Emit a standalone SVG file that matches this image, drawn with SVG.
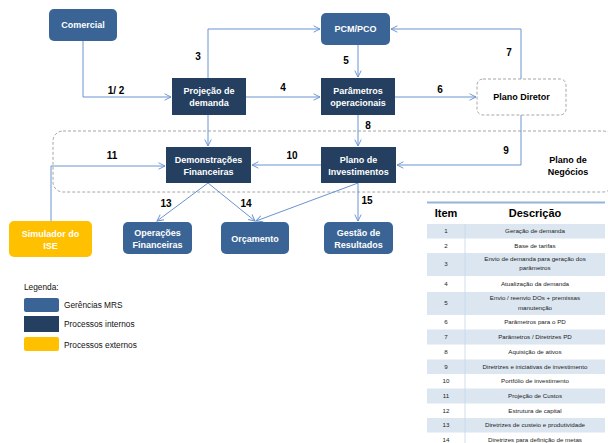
<svg xmlns="http://www.w3.org/2000/svg" width="608" height="443" viewBox="0 0 608 443">
<style>
.mrs{fill:#3A6496}
.int{fill:#243F60}
.ext{fill:#FFC000}
.nt{font-family:"Liberation Sans",Arial,sans-serif;font-weight:bold;font-size:9px;fill:#ffffff;text-anchor:middle}
.bt{font-family:"Liberation Sans",Arial,sans-serif;font-weight:bold;font-size:9px;fill:#000;text-anchor:middle}
.lbl{font-family:"Liberation Sans",Arial,sans-serif;font-weight:bold;font-size:10px;fill:#000;text-anchor:middle}
.con{fill:none;stroke:#6A93D0;stroke-width:1}
.lg{font-family:"Liberation Sans",Arial,sans-serif;font-size:8.3px;fill:#111}
.th{font-family:"Liberation Sans",Arial,sans-serif;font-weight:bold;font-size:11px;fill:#000;text-anchor:middle}
.td{font-family:"Liberation Sans",Arial,sans-serif;font-size:6.2px;fill:#222;text-anchor:middle}
.sh{fill:#DCE6F1}
</style>
<defs>
<marker id="ah" viewBox="0 0 10 10" refX="9" refY="5" markerWidth="8" markerHeight="8" markerUnits="userSpaceOnUse" orient="auto">
<path d="M1,1 L9,5 L1,9" fill="none" stroke="#6A93D0" stroke-width="1.2"/>
</marker>
</defs>
<rect width="608" height="443" fill="#ffffff"/>

<g id="plano-negocios">
<rect x="53" y="131" width="560" height="61" rx="10" fill="none" stroke="#A6A6A6" stroke-width="1" stroke-dasharray="3,2"/>
<text class="bt" x="568" y="163">Plano de</text>
<text class="bt" x="568" y="175">Negócios</text>
</g>

<g id="connectors">
<polyline class="con" points="83,41 83,97 171,97" marker-end="url(#ah)"/>
<polyline class="con" points="208,78 208,29 320,29" marker-end="url(#ah)"/>
<line class="con" x1="246" y1="97" x2="320" y2="97" marker-end="url(#ah)"/>
<line class="con" x1="358" y1="45" x2="358" y2="77" marker-end="url(#ah)"/>
<line class="con" x1="395" y1="97" x2="476" y2="97" marker-end="url(#ah)"/>
<polyline class="con" points="521,79 521,29 391,29" marker-end="url(#ah)"/>
<line class="con" x1="358" y1="115" x2="358" y2="146" marker-end="url(#ah)"/>
<polyline class="con" points="521,115 521,165 397,165" marker-end="url(#ah)"/>
<line class="con" x1="321" y1="165" x2="252" y2="165" marker-end="url(#ah)"/>
<polyline class="con" points="51,222 51,166 165,166" marker-end="url(#ah)"/>
<line class="con" x1="208" y1="115" x2="208" y2="146" marker-end="url(#ah)"/>
<line class="con" x1="208" y1="183" x2="157" y2="221" marker-end="url(#ah)"/>
<line class="con" x1="208" y1="183" x2="255" y2="221" marker-end="url(#ah)"/>
<line class="con" x1="358" y1="183" x2="256" y2="221" marker-end="url(#ah)"/>
<line class="con" x1="358" y1="183" x2="358" y2="221" marker-end="url(#ah)"/>
<text class="lbl" x="116" y="94">1/ 2</text>
<text class="lbl" x="198" y="60">3</text>
<text class="lbl" x="283" y="91">4</text>
<text class="lbl" x="346" y="64">5</text>
<text class="lbl" x="440" y="93">6</text>
<text class="lbl" x="509" y="56">7</text>
<text class="lbl" x="368" y="129">8</text>
<text class="lbl" x="506" y="154">9</text>
<text class="lbl" x="292" y="159">10</text>
<text class="lbl" x="112" y="159">11</text>
<text class="lbl" x="166" y="207">13</text>
<text class="lbl" x="246" y="207">14</text>
<text class="lbl" x="367" y="204">15</text>
</g>

<g id="comercial">
<rect class="mrs" x="49" y="9" width="68" height="32" rx="5"/>
<text class="nt" x="83" y="28">Comercial</text>
</g>
<g id="pcm-pco">
<rect class="mrs" x="321" y="13" width="69" height="32" rx="5"/>
<text class="nt" x="355.5" y="32">PCM/PCO</text>
</g>
<g id="projecao-demanda">
<rect class="int" x="172" y="78" width="74" height="37"/>
<text class="nt" x="209" y="94">Projeção de</text>
<text class="nt" x="209" y="106">demanda</text>
</g>
<g id="parametros-operacionais">
<rect class="int" x="321" y="78" width="74" height="37"/>
<text class="nt" x="358" y="94">Parâmetros</text>
<text class="nt" x="358" y="106">operacionais</text>
</g>
<g id="plano-diretor">
<rect x="477" y="79" width="89" height="36" rx="6" fill="#ffffff" stroke="#A6A6A6" stroke-width="1" stroke-dasharray="3,2"/>
<text class="bt" x="521.5" y="100">Plano Diretor</text>
</g>
<g id="demonstracoes-financeiras">
<rect class="int" x="166" y="147" width="85" height="36"/>
<text class="nt" x="208.5" y="163">Demonstrações</text>
<text class="nt" x="208.5" y="175">Financeiras</text>
</g>
<g id="plano-investimentos">
<rect class="int" x="321" y="147" width="75" height="36"/>
<text class="nt" x="358.5" y="163">Plano de</text>
<text class="nt" x="358.5" y="175">Investimentos</text>
</g>
<g id="simulador-ise">
<rect class="ext" x="9" y="221" width="83" height="36" rx="5"/>
<text class="nt" x="50.5" y="237">Simulador do</text>
<text class="nt" x="50.5" y="249">ISE</text>
</g>
<g id="operacoes-financeiras">
<rect class="mrs" x="123" y="222" width="69" height="32" rx="5"/>
<text class="nt" x="157.5" y="236">Operações</text>
<text class="nt" x="157.5" y="248">Financeiras</text>
</g>
<g id="orcamento">
<rect class="mrs" x="221" y="222" width="68" height="32" rx="5"/>
<text class="nt" x="255" y="242">Orçamento</text>
</g>
<g id="gestao-resultados">
<rect class="mrs" x="324" y="222" width="69" height="32" rx="5"/>
<text class="nt" x="358.5" y="236">Gestão de</text>
<text class="nt" x="358.5" y="248">Resultados</text>
</g>

<g id="legenda">
<text class="lg" x="24" y="290">Legenda:</text>
<rect class="mrs" x="24" y="298" width="35" height="14" rx="2"/>
<text class="lg" x="64" y="308">Gerências MRS</text>
<rect class="int" x="24" y="316" width="35" height="16"/>
<text class="lg" x="64" y="327">Processos internos</text>
<rect class="ext" x="24" y="337" width="35" height="14" rx="2"/>
<text class="lg" x="64" y="348">Processos externos</text>
</g>

<g id="tabela">
<rect class="sh" x="427" y="224" width="178" height="14.5"/>
<rect class="sh" x="427" y="253" width="178" height="23"/>
<rect class="sh" x="427" y="292" width="178" height="23"/>
<rect class="sh" x="427" y="329.5" width="178" height="15"/>
<rect class="sh" x="427" y="359.5" width="178" height="14.5"/>
<rect class="sh" x="427" y="388.5" width="178" height="15"/>
<rect class="sh" x="427" y="418" width="178" height="14.5"/>
<line x1="427" y1="202.5" x2="605" y2="202.5" stroke="#95B3D7" stroke-width="2"/>
<line x1="465" y1="224" x2="465" y2="443" stroke="#C5D5EA" stroke-width="0.8"/>
<text class="th" x="446" y="217">Item</text>
<text class="th" x="535" y="217">Descrição</text>
<text class="td" x="446" y="233">1</text><text class="td" x="535" y="233">Geração de demanda</text>
<text class="td" x="446" y="248">2</text><text class="td" x="535" y="248">Base de tarifas</text>
<text class="td" x="446" y="266">3</text><text class="td" x="535" y="261">Envio de demanda para geração dos</text><text class="td" x="535" y="270">parâmetros</text>
<text class="td" x="446" y="286">4</text><text class="td" x="535" y="286">Atualização da demanda</text>
<text class="td" x="446" y="305">5</text><text class="td" x="535" y="300">Envio / reenvio DOs + premissas</text><text class="td" x="535" y="310">manutenção</text>
<text class="td" x="446" y="324">6</text><text class="td" x="535" y="324">Parâmetros para o PD</text>
<text class="td" x="446" y="339">7</text><text class="td" x="535" y="339">Parâmetros / Diretrizes PD</text>
<text class="td" x="446" y="354">8</text><text class="td" x="535" y="354">Aquisição de ativos</text>
<text class="td" x="446" y="369">9</text><text class="td" x="535" y="369">Diretrizes e iniciativas de investimento</text>
<text class="td" x="446" y="383">10</text><text class="td" x="535" y="383">Portfólio de investimento</text>
<text class="td" x="446" y="398">11</text><text class="td" x="535" y="398">Projeção de Custos</text>
<text class="td" x="446" y="413">12</text><text class="td" x="535" y="413">Estrutura de capital</text>
<text class="td" x="446" y="427">13</text><text class="td" x="535" y="427">Diretrizes de custeio e produtividade</text>
<text class="td" x="446" y="442">14</text><text class="td" x="535" y="442">Diretrizes para definição de metas</text>
</g>
</svg>
